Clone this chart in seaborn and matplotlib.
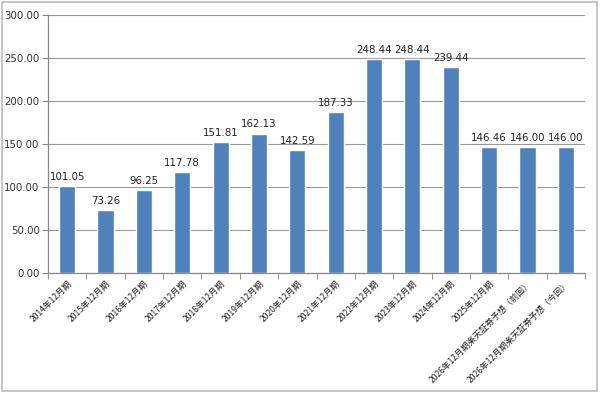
import numpy as np
import matplotlib.pyplot as plt
import seaborn as sns
import pandas as pd
from matplotlib.patches import Rectangle

# data
periods = ['2014年12月期', '2015年12月期', '2016年12月期', '2017年12月期',
           '2018年12月期', '2019年12月期', '2020年12月期', '2021年12月期',
           '2022年12月期', '2023年12月期', '2024年12月期', '2025年12月期',
           '2026年12月期楽天証券予想（前回）', '2026年12月期楽天証券予想（今回）']
values = [101.05, 73.26, 96.25, 117.78, 151.81, 162.13, 142.59, 187.33,
          248.44, 248.44, 239.44, 146.46, 146.00, 146.00]

df = pd.DataFrame({'period': periods, 'value': values})

sns.set_style('white')
plt.rcParams['font.family'] = ['Noto Sans CJK JP', 'DejaVu Sans']

fig = plt.figure(figsize=(6, 3.93), dpi=100)
ax = fig.add_axes([0.08, 0.305, 0.895, 0.657])

sns.barplot(data=df, x='period', y='value', color='#4F81BD', saturation=1,
            width=0.42, ax=ax)

ax.set_ylim(0, 300)
ax.set_yticks(np.arange(0, 301, 50))
ax.set_yticklabels(['%.2f' % v for v in np.arange(0, 301, 50)], fontsize=7.4,
                   color='#333333', family=['DejaVu Sans'])
ax.yaxis.grid(True, color='#999999', linewidth=0.8)
ax.set_axisbelow(True)
ax.set_xlim(-0.5, len(periods) - 0.5)
ax.set_xlabel('')
ax.set_ylabel('')

for s in ['top', 'right']:
    ax.spines[s].set_visible(False)
for s in ['left', 'bottom']:
    ax.spines[s].set_color('#888888')
    ax.spines[s].set_linewidth(0.9)

# labels
ax.set_xticks(range(len(periods)))
ax.set_xticklabels(periods, rotation=45, ha='right', rotation_mode='anchor',
                   fontsize=6.2, color='#222222')
ax.tick_params(axis='x', length=0, pad=4)
ax.tick_params(axis='y', length=4, color='#888888', left=True, pad=2)
# minor ticks between categories
ax.set_xticks(np.arange(-0.5, len(periods), 1), minor=True)
ax.tick_params(axis='x', which='minor', length=4, color='#888888', bottom=True,
               direction='out')

ax.bar_label(ax.containers[0], fmt='%.2f', fontsize=7.4, color='#222222',
             padding=3, family=['DejaVu Sans'])

# border around figure
fig.patches.append(Rectangle((0.003, 0.004), 0.992, 0.99, transform=fig.transFigure,
                             fill=False, edgecolor='#bbbbbb', linewidth=1.2))

plt.savefig('out.png', dpi=100)
